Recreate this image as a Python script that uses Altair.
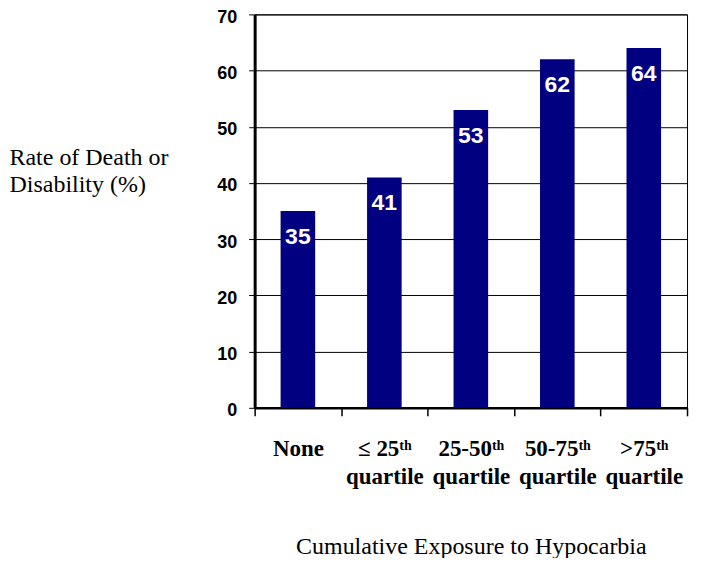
import altair as alt
import pandas as pd

categories = ["None", "≤ 25ᵗʰ\nquartile", "25-50ᵗʰ\nquartile", "50-75ᵗʰ\nquartile", ">75ᵗʰ\nquartile"]
values = [35, 41, 53, 62, 64]
y_ticks = [0, 10, 20, 30, 40, 50, 60, 70]

df = pd.DataFrame({"cat": categories, "val": values})

x_enc = alt.X(
    "cat:N",
    sort=categories,
    scale=alt.Scale(paddingInner=0, paddingOuter=0),
    axis=alt.Axis(
        title="Cumulative Exposure to Hypocarbia",
        titleFont="Liberation Serif",
        titleFontSize=24,
        titleFontWeight="normal",
        titleColor="black",
        titleBaseline="alphabetic",
        titleY=146,
        labelExpr="split(datum.label, '\\n')",
        labelFont="Liberation Serif",
        labelFontSize=23,
        labelFontWeight="bold",
        labelColor="black",
        labelAngle=0,
        labelBaseline="top",
        labelLineHeight=28,
        labelPadding=22,
        tickBand="extent",
        tickColor="black",
        tickSize=8,
        tickWidth=1.5,
        domainColor="black",
        domainWidth=2.5,
        grid=False,
    ),
)

y_enc = alt.Y(
    "val:Q",
    scale=alt.Scale(domain=[0, 70]),
    axis=alt.Axis(
        values=y_ticks,
        title=["Rate of Death or", "Disability (%)"],
        titleFont="Liberation Serif",
        titleFontSize=24,
        titleFontWeight="normal",
        titleColor="black",
        titleAngle=0,
        titleAlign="left",
        titleBaseline="alphabetic",
        titleLineHeight=27,
        titleX=-246,
        titleY=150,
        labelFont="Liberation Sans",
        labelFontSize=18,
        labelFontWeight="bold",
        labelColor="black",
        labelPadding=12,
        labelOffset=3,
        tickColor="black",
        tickSize=6,
        tickWidth=1,
        domainColor="black",
        domainWidth=3,
        grid=True,
        gridColor="black",
        gridWidth=1,
        gridOpacity=1,
    ),
)

bars = alt.Chart(df).mark_bar(color="#000080", width=alt.RelativeBandSize(0.4)).encode(
    x=x_enc, y=y_enc
)

labels = alt.Chart(df).mark_text(
    color="white",
    font="Liberation Sans",
    fontSize=23,
    fontWeight="bold",
    baseline="alphabetic",
    dy=33,
).encode(x=alt.X("cat:N", sort=categories), y="val:Q", text="val:Q")

chart = (
    alt.layer(bars, labels)
    .properties(
        width=433,
        height=394,
        autosize=alt.AutoSizeParams(type="none"),
        padding={"left": 247, "top": 6, "right": 20, "bottom": 150},
        background="white",
    )
    .configure_view(stroke="black", strokeWidth=1)
)

chart.save("out.html", embed_options={"renderer": "svg", "actions": False})
